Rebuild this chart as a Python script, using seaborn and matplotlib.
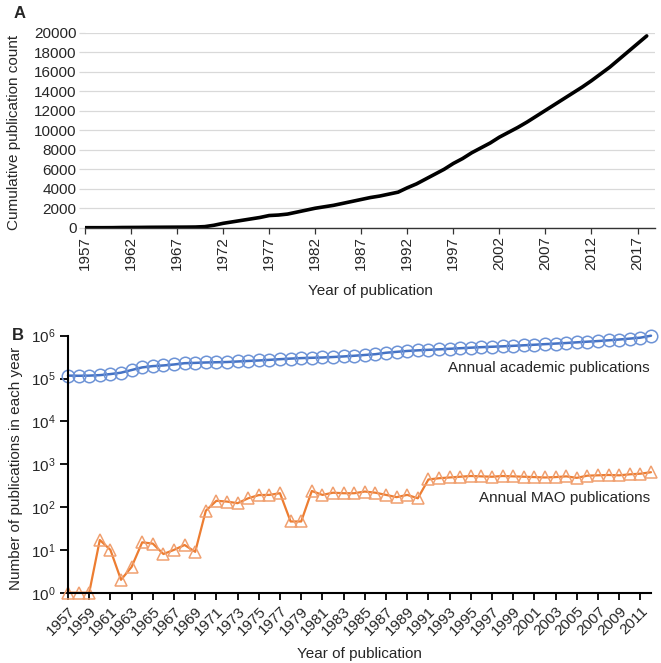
import numpy as np
import pandas as pd
import matplotlib
matplotlib.use("Agg")
import matplotlib.pyplot as plt
import seaborn as sns
from matplotlib.ticker import LogLocator, NullLocator, FixedLocator

# ---------------- data ----------------
years_a = list(range(1957, 2019))
cumulative = [0, 0, 0, 5, 20, 25, 30, 40, 45, 50, 55, 60, 70, 110,
              250, 450, 600, 750, 900, 1050, 1250, 1300, 1400, 1600,
              1800, 2000, 2150, 2300, 2500, 2700, 2900, 3100, 3250, 3450,
              3650, 4100, 4500, 5000, 5500, 6000, 6600, 7100, 7700, 8200,
              8700, 9300, 9800, 10300, 10850, 11450, 12050, 12650, 13250,
              13850, 14450, 15100, 15800, 16500, 17300, 18100, 18900, 19700]
xticks_a = list(range(1957, 2018, 5))
yticks_a = list(range(0, 20001, 2000))

years_b = list(range(1957, 2013))
academic = [117000, 116000, 117000, 120000, 127000, 137000, 158000, 182000,
            195000, 202000, 213000, 228000, 232000, 237000, 240000, 243000,
            250000, 257000, 264000, 273000, 283000, 292000, 300000, 305000,
            310000, 318000, 328000, 340000, 355000, 370000, 400000, 420000,
            440000, 455000, 468000, 480000, 495000, 510000, 525000, 540000,
            552000, 565000, 580000, 597000, 615000, 635000, 655000, 675000,
            700000, 725000, 750000, 780000, 815000, 855000, 900000, 1000000]
mao = [1, 1, 1, 17, 10, 2, 4, 15, 14, 8, 10, 13, 9, 82,
       140, 134, 123, 160, 190, 192, 210, 46, 46, 237, 192, 216,
       210, 210, 230, 216, 192, 170, 192, 160, 440, 470, 490, 510,
       530, 520, 510, 530, 520, 510, 500, 490, 500, 520, 480, 540,
       550, 560, 550, 580, 600, 650]
xticks_b = list(range(1957, 2012, 2))
label_academic = "Annual academic publications"
label_mao = "Annual MAO publications"

# ---------------- style ----------------
sns.set_theme(style="white")
plt.rcParams['font.family'] = ['Liberation Sans', 'DejaVu Sans']
plt.rcParams['font.size'] = 11

W, H = 661, 663
fig = plt.figure(figsize=(W / 100, H / 100), dpi=100)

def px_axes(l, t, r, b):
    return fig.add_axes([l / W, 1 - b / H, (r - l) / W, (b - t) / H])

# ---------------- panel A ----------------
axA = px_axes(85, 33, 655, 227.7)
dfA = pd.DataFrame({"year": years_a, "count": cumulative})
sns.lineplot(data=dfA, x="year", y="count", ax=axA, color="black", linewidth=2.6)
axA.set_xlim(1957, 2018.9)
axA.set_ylim(0, 20000)
axA.set_xticks(xticks_a)
axA.set_xticklabels([str(y) for y in xticks_a], rotation=90, fontsize=11)
axA.set_yticks(yticks_a)
axA.set_yticklabels([str(v) for v in yticks_a], fontsize=11)
axA.grid(axis="y", color="#d9d9d9", linewidth=0.9)
axA.set_axisbelow(True)
for s in ["top", "right", "left"]:
    axA.spines[s].set_visible(False)
axA.spines["bottom"].set_color("#333333")
axA.spines["bottom"].set_linewidth(1.0)
axA.tick_params(axis="x", bottom=True, length=4, width=0.9, color="#333333", pad=2)
axA.tick_params(axis="y", left=True, length=4, width=0.9, color="#d9d9d9", pad=2)
axA.set_xlabel("Year of publication", fontsize=11)
axA.set_ylabel("Cumulative publication count", fontsize=11)
axA.xaxis.set_label_coords(0.5, -0.29)
axA.yaxis.set_label_coords(-0.113, 0.49)

# ---------------- panel B ----------------
axB = px_axes(68, 335.7, 651, 592.7)
dfB = pd.DataFrame({"year": years_b * 2,
                    "value": academic + mao,
                    "series": [label_academic] * len(years_b) + [label_mao] * len(years_b)})
blue, orange = "#4472C4", "#ED7D31"
sns.lineplot(data=dfB[dfB.series == label_academic], x="year", y="value", ax=axB,
             color=blue, linewidth=1.8, marker="o", markersize=9.0,
             markerfacecolor="none", markeredgecolor="#6d93d6", markeredgewidth=1.1,
             clip_on=False)
sns.lineplot(data=dfB[dfB.series == label_mao], x="year", y="value", ax=axB,
             color=orange, linewidth=1.6, marker="^", markersize=9.0,
             markerfacecolor="none", markeredgecolor="#f0a070", markeredgewidth=1.1,
             clip_on=False)
axB.set_yscale("log")
axB.set_ylim(1, 1e6)
axB.set_xlim(1957, 2012)
axB.yaxis.set_major_locator(LogLocator(base=10, numticks=10))
axB.yaxis.set_minor_locator(NullLocator())
axB.set_xticks(xticks_b)
axB.set_xticklabels([str(y) for y in xticks_b], rotation=45, ha="right",
                    rotation_mode="anchor", fontsize=11)
for s in ["top", "right"]:
    axB.spines[s].set_visible(False)
for s in ["left", "bottom"]:
    axB.spines[s].set_color("black")
    axB.spines[s].set_linewidth(1.5)
axB.tick_params(axis="y", left=True, length=6, width=1.3, color="black", pad=3, labelsize=11)
axB.tick_params(axis="x", bottom=True, length=5, width=1.3, color="black", pad=3)
axB.set_xlabel("Year of publication", fontsize=11)
axB.set_ylabel("Number of publications in each year", fontsize=11)
axB.xaxis.set_label_coords(0.5, -0.21)
axB.yaxis.set_label_coords(-0.078, 0.485)
axB.text(2011.9, 1.75e5, label_academic, ha="right", va="center", fontsize=11)
axB.text(2011.9, 160, label_mao, ha="right", va="center", fontsize=11)

fig.text(14 / W, 1 - 14 / H, "A", fontsize=12, fontweight="bold", ha="left", va="center")
fig.text(12 / W, 1 - 335 / H, "B", fontsize=12, fontweight="bold", ha="left", va="center")

fig.savefig("out.png", dpi=100)
